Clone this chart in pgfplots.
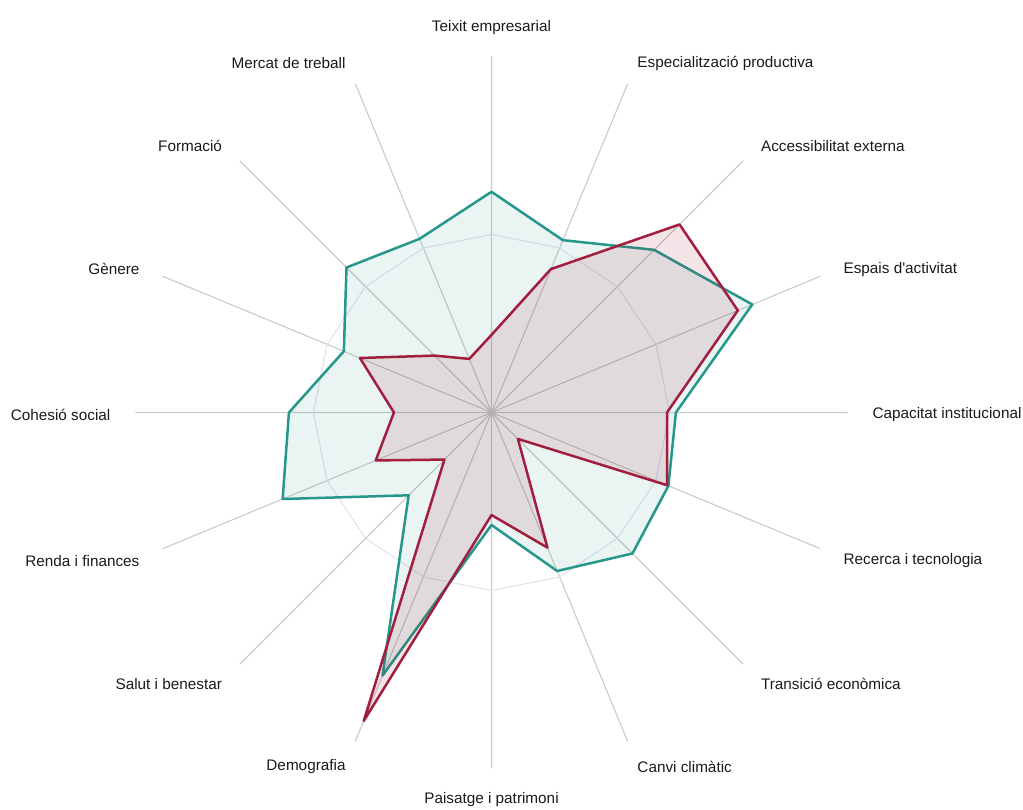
\documentclass[border=0pt]{standalone}
\usepackage{pgfplots}
\pgfplotsset{compat=1.18}
\usepgfplotslibrary{polar}
\usepackage{fontspec}
\setmainfont{Liberation Sans}[Ligatures=TeXOff]
\definecolor{tealc}{HTML}{26978A}
\definecolor{redc}{HTML}{A11E3E}
\definecolor{spoke}{HTML}{CACACA}
\definecolor{ringc}{HTML}{E4E4F0}
\definecolor{txt}{HTML}{1A1A1A}
\tikzset{lab/.style={font=\fontsize{15.3}{18}\selectfont, text=txt, inner sep=0pt, yshift=-2.5pt}}
\begin{document}
\begin{tikzpicture}
\useasboundingbox (0,0) rectangle (1023pt,810pt);
\begin{polaraxis}[
  at={(491.5pt,397.5pt)}, anchor=center,
  width=712pt, height=712pt, scale only axis,
  ymin=0, ymax=100,
  xtick={0,22.5,...,337.5}, xticklabels=\empty,
  ytick=\empty,
  xmajorgrids,
  major x grid style={draw=spoke, line width=1.1pt},
  axis line style={draw=none},
  major tick length=0pt,
  clip=false,
]
% half ring (polygon)
\addplot[draw=ringc, line width=1.2pt] coordinates {
 (0,50) (22.5,50) (45,50) (67.5,50) (90,50) (112.5,50) (135,50) (157.5,50)
 (180,50) (202.5,50) (225,50) (247.5,50) (270,50) (292.5,50) (315,50) (337.5,50) (360,50)};
% teal series
\addplot[draw=tealc, line width=2.5pt, line join=round, fill=tealc, fill opacity=0.10] coordinates {
 (90,62.0) (67.5,52.4) (45,64.6) (22.5,79.3) (0,51.8) (-22.5,53.8) (-45,56.0) (-67.5,48.2)
 (-90,31.6) (-112.5,80.0) (-135,32.9) (-157.5,63.5) (-180,56.9) (-202.5,44.9) (-225,57.6) (-247.5,52.8)
 (-270,62.0)};
% red series
\addplot[draw=redc, line width=2.5pt, line join=round, fill=redc, fill opacity=0.12] coordinates {
 (90,21.8) (67.5,43.6) (45,74.7) (22.5,74.9) (0,49.3) (-22.5,53.4) (-45,10.5) (-67.5,41.1)
 (-90,28.8) (-112.5,93.8) (-135,18.7) (-157.5,35.2) (-180,27.4) (-202.5,40.0) (-225,22.6) (-247.5,16.3)
 (-270,21.8)};
% category labels
\node[lab, anchor=center] at (axis cs:90,108.7) {Teixit empresarial};
\node[lab, anchor=west] at (axis cs:67.5,107) {Especialització productiva};
\node[lab, anchor=west] at (axis cs:45,107) {Accessibilitat externa};
\node[lab, anchor=west] at (axis cs:22.5,107) {Espais d'activitat};
\node[lab, anchor=west] at (axis cs:0,107) {Capacitat institucional};
\node[lab, anchor=west] at (axis cs:-22.5,107) {Recerca i tecnologia};
\node[lab, anchor=west] at (axis cs:-45,107) {Transició econòmica};
\node[lab, anchor=west] at (axis cs:-67.5,107) {Canvi climàtic};
\node[lab, anchor=center, yshift=2.5pt] at (axis cs:-90,108.6) {Paisatge i patrimoni};
\node[lab, anchor=east] at (axis cs:-112.5,107) {Demografia};
\node[lab, anchor=east] at (axis cs:-135,107) {Salut i benestar};
\node[lab, anchor=east] at (axis cs:-157.5,107) {Renda i finances};
\node[lab, anchor=east] at (axis cs:180,107) {Cohesió social};
\node[lab, anchor=east] at (axis cs:157.5,107) {Gènere};
\node[lab, anchor=east] at (axis cs:135,107) {Formació};
\node[lab, anchor=east] at (axis cs:112.5,107) {Mercat de treball};
\end{polaraxis}
\end{tikzpicture}
\end{document}
